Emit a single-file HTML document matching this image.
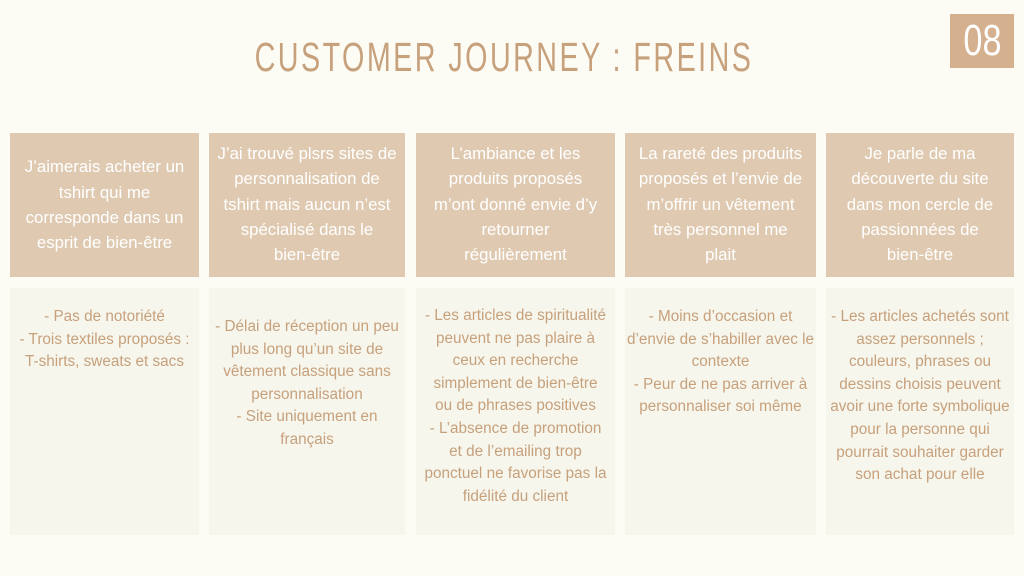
<!DOCTYPE html>
<html><head><style>
body{margin:0;width:1024px;height:576px;background:#fcfcf4;position:relative;overflow:hidden;font-family:"Liberation Sans",sans-serif}
.t{position:absolute;left:0;width:1008px;top:34px;text-align:center;font-family:"Liberation Sans Narrow","Liberation Sans",sans-serif;font-size:41px;color:#c7a07c;letter-spacing:3.5px;transform:scaleX(0.70);transform-origin:504px 0;}
.b{position:absolute;left:950px;top:14px;width:64px;height:54px;background:#d5b08f;color:#fff;font-family:"Liberation Sans Narrow","Liberation Sans",sans-serif;font-size:44px;text-align:center;line-height:54px}
.b span{display:inline-block;transform:scaleX(0.78)}
.h,.c{position:absolute;box-sizing:border-box;text-align:center;display:flex;justify-content:center;white-space:nowrap}
.h{top:133px;height:144px;background:#dfcab1;color:#fff;line-height:25.3px;align-items:center;font-size:16.8px}
.c{top:288px;height:247px;background:#f6f6ec;color:#c7a07c;line-height:22.6px;padding-top:18px;font-size:15.3px}
</style></head><body>
<div class="t">CUSTOMER JOURNEY : FREINS</div>
<div class="b"><span>08</span></div>
<div class="h" style="left:10px;width:189px">J’aimerais acheter un<br>tshirt qui me<br>corresponde dans un<br>esprit de bien-être</div>
<div class="h" style="left:209px;width:196px;align-items:flex-start;padding-top:8px">J’ai trouvé plsrs sites de<br>personnalisation de<br>tshirt mais aucun n’est<br>spécialisé dans le<br>bien-être</div>
<div class="h" style="left:416px;width:199px;align-items:flex-start;padding-top:8px">L’ambiance et les<br>produits proposés<br>m’ont donné envie d’y<br>retourner<br>régulièrement</div>
<div class="h" style="left:625px;width:191px;align-items:flex-start;padding-top:8px">La rareté des produits<br>proposés et l’envie de<br>m’offrir un vêtement<br>très personnel me<br>plait</div>
<div class="h" style="left:826px;width:188px;align-items:flex-start;padding-top:8px">Je parle de ma<br>découverte du site<br>dans mon cercle de<br>passionnées de<br>bien-être</div>
<div class="c" style="left:10px;width:189px">- Pas de notoriété<br>- Trois textiles proposés :<br>T-shirts, sweats et sacs</div>
<div class="c" style="left:209px;width:196px;padding-top:28px">- Délai de réception un peu<br>plus long qu’un site de<br>vêtement classique sans<br>personnalisation<br>- Site uniquement en<br>français</div>
<div class="c" style="left:416px;width:199px;padding-top:17px">- Les articles de spiritualité<br>peuvent ne pas plaire à<br>ceux en recherche<br>simplement de bien-être<br>ou de phrases positives<br>- L’absence de promotion<br>et de l’emailing trop<br>ponctuel ne favorise pas la<br>fidélité du client</div>
<div class="c" style="left:625px;width:191px">- Moins d’occasion et<br>d’envie de s’habiller avec le<br>contexte<br>- Peur de ne pas arriver à<br>personnaliser soi même</div>
<div class="c" style="left:826px;width:188px">- Les articles achetés sont<br>assez personnels ;<br>couleurs, phrases ou<br>dessins choisis peuvent<br>avoir une forte symbolique<br>pour la personne qui<br>pourrait souhaiter garder<br>son achat pour elle</div>
</body></html>
